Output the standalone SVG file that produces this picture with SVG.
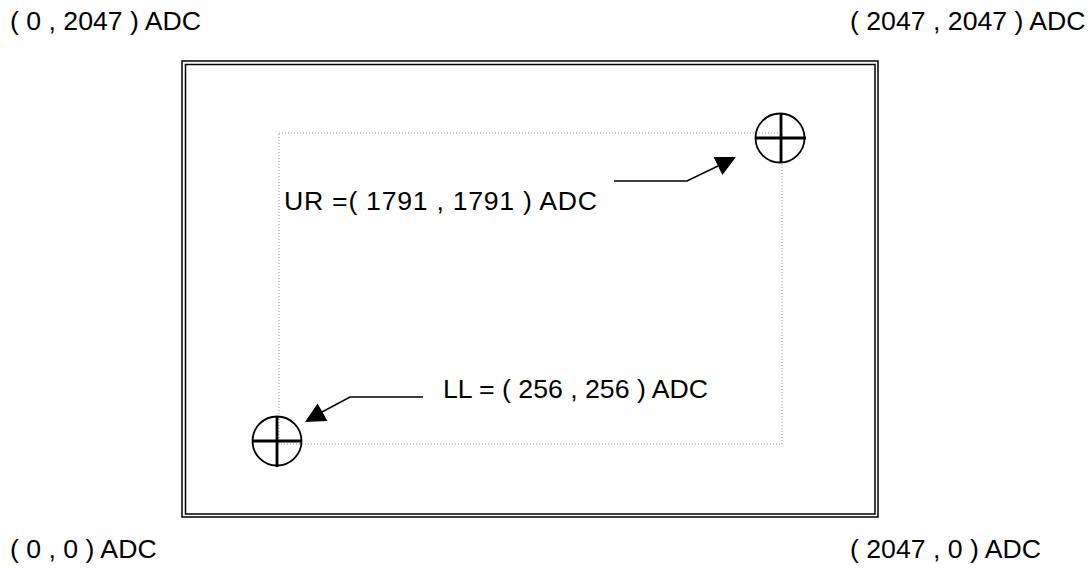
<svg xmlns="http://www.w3.org/2000/svg" width="1092" height="568" viewBox="0 0 1092 568">
<style>
text{font-family:"Liberation Sans",Arial,sans-serif;font-size:26.67px;fill:#000}
.frame{fill:none;stroke:#000;stroke-width:1.5}
.dot{fill:none;stroke:#999;stroke-width:1;stroke-dasharray:1 2}
.ring{fill:none;stroke:#000;stroke-width:1.8}
.cross{stroke:#000;stroke-width:2.8}
.lead{fill:none;stroke:#000;stroke-width:1.5}
.head{fill:#000}
</style>
<rect width="1092" height="568" fill="#fff"/>
<g id="frame">
<rect class="frame" x="182" y="61" width="696" height="456"/>
<rect class="frame" x="185.5" y="64.5" width="689.5" height="449.5"/>
</g>
<g id="window">
<rect class="dot" x="279" y="133" width="503" height="311"/>
</g>
<g id="ur-mark">
<circle class="ring" cx="780" cy="138" r="24.5"/>
<line class="cross" x1="755" y1="138" x2="806" y2="138"/>
<line class="cross" x1="781" y1="113" x2="781" y2="163"/>
</g>
<g id="ll-mark">
<circle class="ring" cx="277" cy="441" r="24.5"/>
<line class="cross" x1="252" y1="441" x2="302" y2="441"/>
<line class="cross" x1="277" y1="416" x2="277" y2="467"/>
</g>
<g id="connectors">
<polyline class="lead" points="614,181 687,181 718,166"/>
<polygon class="head" points="736,157 713.6,157 722.4,175"/>
<polyline class="lead" points="423,397 350,397 322,412"/>
<polygon class="head" points="305,422 317.6,403.6 327.4,421"/>
</g>
<g id="labels">
<text x="10" y="30">( 0 , 2047 ) ADC</text>
<text x="850" y="30">( 2047 , 2047 ) ADC</text>
<text x="10" y="558">( 0 , 0 ) ADC</text>
<text x="850" y="558">( 2047 , 0 ) ADC</text>
<text x="284" y="210" textLength="313" lengthAdjust="spacing">UR =( 1791 , 1791 ) ADC</text>
<text x="443" y="398">LL = ( 256 , 256 ) ADC</text>
</g>
</svg>
